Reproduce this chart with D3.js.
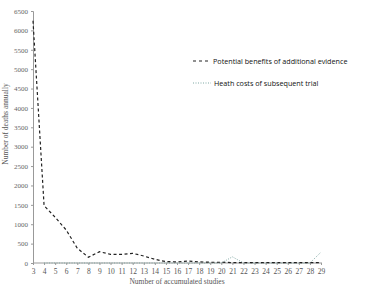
<!DOCTYPE html>
<html>
<head>
<meta charset="utf-8">
<script src="https://cdn.jsdelivr.net/npm/d3@7"></script>
<style>
  body { margin: 0; background: #fff; }
  svg text { fill: #555; }
</style>
</head>
<body>
<svg id="chart" width="366" height="296"></svg>
<script>
const studies = [3,4,5,6,7,8,9,10,11,12,13,14,15,16,17,18,19,20,21,22,23,24,25,26,27,28,29];
const benefits = [6250,1480,1180,850,380,150,290,225,220,250,180,95,35,30,50,30,20,20,10,10,10,10,10,10,10,10,10];
const costStudies = [4,5,6,7,8,9,10,11,12,13,14,15,16,17,18,19,20,21,22,23,24,25,26,27,28,29];
const costs = [0,0,0,0,0,0,0,0,0,0,0,0,0,0,0,0,0,160,0,0,0,0,0,0,0,280];
const yTicks = [0,500,1000,1500,2000,2500,3000,3500,4000,4500,5000,5500,6000,6500];
const seriesNames = ["Potential benefits of additional evidence", "Heath costs of subsequent trial"];

var svg = d3.select("#chart"),
    margin = {top: 11, right: 45, bottom: 33, left: 33},
    width = +svg.attr("width") - margin.left - margin.right,
    height = +svg.attr("height") - margin.top - margin.bottom;

var g = svg.append("g")
  .attr("transform", "translate(" + margin.left + "," + margin.top + ")");

var x = d3.scalePoint().domain(studies).range([0, 288]);
var y = d3.scaleLinear().domain([0, 6500]).range([height, 0]);

// Y axis
var yAxis = g.append("g")
  .call(d3.axisLeft(y).tickValues(yTicks).tickFormat(d3.format("d")).tickSize(2).tickPadding(3));
yAxis.select(".domain").attr("stroke", "#999");
yAxis.selectAll(".tick line").attr("stroke", "#999");
yAxis.selectAll("text")
  .style("font-family", "Liberation Serif, serif")
  .style("font-size", "7px")
  .style("fill", "#666");

// X axis
var xAxis = g.append("g")
  .attr("transform", "translate(0," + height + ")")
  .call(d3.axisBottom(x).tickSize(2).tickPadding(4));
xAxis.select(".domain").attr("stroke", "#999").attr("d", "M0,0H" + (x(29) + 1));
xAxis.selectAll(".tick line").attr("stroke", "#999");
xAxis.selectAll("text")
  .style("font-family", "Liberation Serif, serif")
  .style("font-size", "7.5px")
  .style("fill", "#555");

// axis titles
svg.append("text")
  .attr("transform", "translate(" + (margin.left + 144) + "," + 284 + ")")
  .style("text-anchor", "middle")
  .style("font-family", "Liberation Serif, serif")
  .style("font-size", "7.5px")
  .text("Number of accumulated studies");

svg.append("text")
  .attr("transform", "translate(8,124) rotate(-90)")
  .style("text-anchor", "middle")
  .style("font-family", "Liberation Serif, serif")
  .style("font-size", "7.5px")
  .text("Number of deaths annually");

// lines
var line = d3.line().x(d => x(d[0])).y(d => y(d[1]));

g.append("path")
  .datum(costStudies.map((s, i) => [s, costs[i]]))
  .attr("fill", "none")
  .attr("stroke", "#7fa8a4")
  .attr("stroke-width", 1)
  .attr("stroke-dasharray", "1,1.5")
  .attr("d", line);

g.append("path")
  .datum(studies.map((s, i) => [s, benefits[i]]))
  .attr("fill", "none")
  .attr("stroke", "#222")
  .attr("stroke-width", 1.2)
  .attr("stroke-dasharray", "3,2.5")
  .attr("d", line);

// legend
var legend = svg.append("g").attr("transform", "translate(193,61)");
legend.append("line")
  .attr("x1", 0).attr("x2", 16).attr("y1", 0).attr("y2", 0)
  .attr("stroke", "#222").attr("stroke-width", 1.2).attr("stroke-dasharray", "3,3");
legend.append("line")
  .attr("x1", 0).attr("x2", 18).attr("y1", 22).attr("y2", 22)
  .attr("stroke", "#7fa8a4").attr("stroke-width", 1).attr("stroke-dasharray", "1,1.5");
legend.selectAll("text.lg")
  .data(seriesNames)
  .enter()
  .append("text")
  .attr("class", "lg")
  .attr("x", (d, i) => i == 0 ? 20 : 21)
  .attr("y", (d, i) => i * 22 + 3)
  .style("font-family", "Open Sans, sans-serif")
  .style("font-size", "7.2px")
  .style("fill", "#111")
  .text(d => d);
</script>
</body>
</html>
